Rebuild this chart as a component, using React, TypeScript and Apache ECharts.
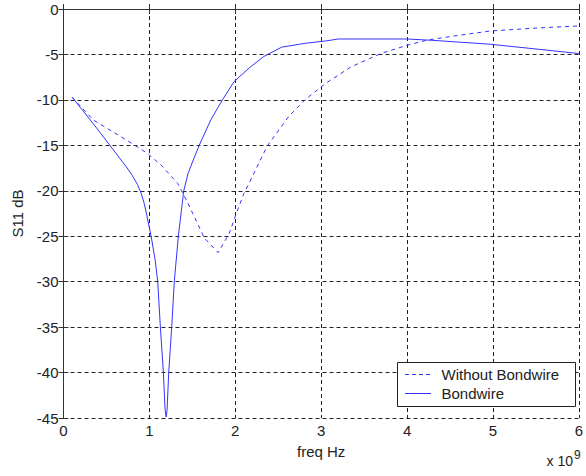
import React, { useEffect, useRef } from "react";
import * as echarts from "echarts";

// frequency in units of 1e9 Hz, S11 in dB
const bondwireData: [number, number][] = [
  [0.1, -9.7], [0.345, -12.6], [0.54, -15.0], [0.73, -17.35], [0.8, -18.3], [0.86, -19.3],
  [0.905, -20.3], [0.94, -21.4], [0.97, -22.7], [1.02, -25.0], [1.067, -27.6], [1.097, -30.0],
  [1.128, -35.0], [1.163, -40.0], [1.183, -44.1], [1.195, -44.9], [1.206, -44.1], [1.225, -40.0],
  [1.26, -35.0], [1.29, -30.0], [1.337, -25.0], [1.4, -20.0], [1.45, -18.1], [1.52, -16.4],
  [1.58, -15.0], [1.715, -12.2], [1.85, -10.0], [1.985, -8.0], [2.16, -6.5], [2.33, -5.24],
  [2.54, -4.2], [2.81, -3.78], [3.05, -3.52], [3.2, -3.3], [4.0, -3.3], [4.3, -3.45],
  [4.63, -3.66], [4.97, -3.88], [5.43, -4.33], [6.0, -4.9],
];
const withoutData: [number, number][] = [
  [0.1, -9.7], [0.345, -12.2], [0.73, -14.4], [0.98, -15.9], [1.15, -17.3], [1.33, -19.2],
  [1.43, -21.0], [1.64, -25.2], [1.8, -26.8], [1.93, -24.7], [2.0, -22.8], [2.1, -20.3],
  [2.16, -19.2], [2.37, -15.1], [2.62, -11.85], [2.81, -10.0], [3.05, -8.2], [3.35, -6.35],
  [3.7, -4.88], [4.01, -3.96], [4.24, -3.41], [4.6, -2.9], [4.97, -2.42], [5.5, -2.1],
  [5.98, -1.87],
];
const seriesNames = ["Without Bondwire", "Bondwire"];
const xAxisName = "freq Hz";
const yAxisName = "S11 dB";
const xScaleBase = "x 10";
const xScaleExp = "9";

const FONT = "Liberation Sans, Arial, sans-serif";
const BLUE = "#3333ff";
const AXIS = "#333";
const TEXT = "#222";
const FS = 15;

export default function App() {
  const ref = useRef<HTMLDivElement>(null);
  useEffect(() => {
    if (!ref.current) return;
    const chart = echarts.init(ref.current, undefined, { renderer: "svg" });
    const gridLine = { show: true, lineStyle: { color: "#222", type: [4, 3] as any, width: 1 } };
    const tick = { show: true, inside: true, length: 5, lineStyle: { color: AXIS } };
    const lx = 397, ly = 362, lw = 178, lh = 44;
    chart.setOption({
      animation: false,
      backgroundColor: "#fff",
      textStyle: { fontFamily: FONT },
      grid: { left: 63.5, right: 4, top: 9, bottom: 58, containLabel: false },
      xAxis: [
        {
          type: "value", min: 0, max: 6, interval: 1, position: "bottom",
          name: xAxisName, nameLocation: "middle", nameGap: 26,
          nameTextStyle: { fontFamily: FONT, fontSize: FS, color: TEXT },
          axisLine: { show: true, lineStyle: { color: AXIS } },
          axisTick: tick,
          axisLabel: { fontFamily: FONT, fontSize: FS, color: TEXT, margin: 5 },
          splitLine: gridLine,
        },
        {
          type: "value", min: 0, max: 6, interval: 1, position: "top",
          axisLine: { show: true, lineStyle: { color: AXIS } },
          axisTick: tick, axisLabel: { show: false }, splitLine: { show: false },
        },
      ],
      yAxis: [
        {
          type: "value", min: -45, max: 0, interval: 5, position: "left",
          name: yAxisName, nameLocation: "middle", nameGap: 39,
          nameTextStyle: { fontFamily: FONT, fontSize: FS, color: TEXT },
          axisLine: { show: true, lineStyle: { color: AXIS } },
          axisTick: tick,
          axisLabel: { fontFamily: FONT, fontSize: FS, color: TEXT, margin: 5 },
          splitLine: gridLine,
        },
        {
          type: "value", min: -45, max: 0, interval: 5, position: "right",
          axisLine: { show: true, lineStyle: { color: AXIS } },
          axisTick: tick, axisLabel: { show: false }, splitLine: { show: false },
        },
      ],
      graphic: [
        {
          type: "text", x: 546.5, y: 461, z: 100,
          style: { text: xScaleBase, fontFamily: FONT, fontSize: 14, fill: TEXT, verticalAlign: "middle", align: "left" },
        },
        {
          type: "text", x: 574, y: 455, z: 100,
          style: { text: xScaleExp, fontFamily: FONT, fontSize: 12, fill: TEXT, verticalAlign: "middle", align: "left" },
        },
        {
          type: "rect", z: 100, shape: { x: lx + 0.5, y: ly + 0.5, width: lw, height: lh },
          style: { fill: "#fff", stroke: "#222", lineWidth: 1 },
        },
        {
          type: "line", z: 101, shape: { x1: lx + 8, y1: ly + 12.5, x2: lx + 34, y2: ly + 12.5 },
          style: { stroke: BLUE, lineWidth: 1, lineDash: [4, 3] },
        },
        {
          type: "line", z: 101, shape: { x1: lx + 8, y1: ly + 31.5, x2: lx + 34, y2: ly + 31.5 },
          style: { stroke: BLUE, lineWidth: 1 },
        },
        {
          type: "text", z: 101, x: lx + 44.5, y: ly + 12.5,
          style: { text: seriesNames[0], fontFamily: FONT, fontSize: FS, fill: TEXT, verticalAlign: "middle" },
        },
        {
          type: "text", z: 101, x: lx + 44.5, y: ly + 31.5,
          style: { text: seriesNames[1], fontFamily: FONT, fontSize: FS, fill: TEXT, verticalAlign: "middle" },
        },
      ],
      series: [
        {
          name: seriesNames[0], type: "line", data: withoutData, symbol: "none", z: 2,
          lineStyle: { color: BLUE, width: 1, type: [4, 4] as any }, itemStyle: { color: BLUE },
        },
        {
          name: seriesNames[1], type: "line", data: bondwireData, symbol: "none", z: 2,
          lineStyle: { color: BLUE, width: 1, type: "solid" }, itemStyle: { color: BLUE },
        },
      ],
    });
    return () => chart.dispose();
  }, []);
  return <div ref={ref} style={{ width: 586, height: 476, position: "absolute", left: 0, top: 0 }} />;
}
